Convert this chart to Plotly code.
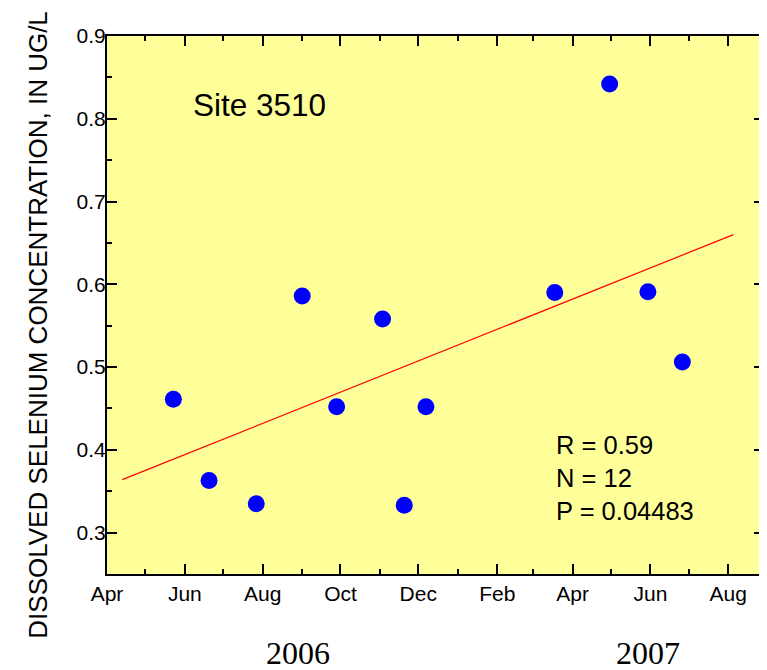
import plotly.graph_objects as go

# sample dates and dissolved selenium (ug/L), site 3510
dates = ["2006-05-23", "2006-06-20", "2006-07-27", "2006-09-01", "2006-09-28",
         "2006-11-03", "2006-11-20", "2006-12-07", "2007-03-18", "2007-04-30",
         "2007-05-30", "2007-06-26"]
selenium = [0.461, 0.363, 0.335, 0.586, 0.452, 0.558, 0.333, 0.452,
            0.590, 0.842, 0.591, 0.506]

# fitted trend line end points
trend_x = ["2006-04-13", "2007-08-05"]
trend_y = [0.364, 0.660]

stats_lines = ["R = 0.59", "N = 12", "P = 0.04483"]
site_label = "Site 3510"
year_labels = ["2006", "2007"]

fig = go.Figure()
fig.add_trace(go.Scatter(x=trend_x, y=trend_y, mode="lines",
                         line=dict(color="#FF0000", width=1.2),
                         showlegend=False, hoverinfo="skip"))
fig.add_trace(go.Scatter(x=dates, y=selenium, mode="markers",
                         marker=dict(color="#0000FF", size=17, line=dict(width=0)),
                         showlegend=False))

axis_font = dict(family="Arial, Liberation Sans, sans-serif", size=21, color="black")

fig.update_xaxes(type="date", range=["2006-04-01", "2007-08-29"],
                 tick0="2006-04-01", dtick="M2", tickformat="%b",
                 ticks="inside", ticklen=10, tickwidth=1.8, tickcolor="black",
                 minor=dict(ticks="inside", ticklen=5, dtick="M1",
                            tickwidth=1.8, tickcolor="black"),
                 showline=True, linecolor="black", linewidth=2, mirror="allticks",
                 showgrid=False, zeroline=False, tickfont=axis_font)
fig.update_yaxes(range=[0.25, 0.9], tick0=0.3, dtick=0.1, tickformat=".1f",
                 ticks="inside", ticklen=10, tickwidth=1.8, tickcolor="black",
                 minor=dict(ticks="inside", ticklen=5, dtick=0.05,
                            tickwidth=1.8, tickcolor="black"),
                 ticklabelstandoff=-5,
                 showline=True, linecolor="black", linewidth=2, mirror="allticks",
                 showgrid=False, zeroline=False, tickfont=axis_font)

fig.add_annotation(text="DISSOLVED SELENIUM CONCENTRATION, IN UG/L",
                   xref="paper", yref="paper", x=-0.1047, y=0.462,
                   xanchor="center", yanchor="middle", textangle=-90,
                   showarrow=False,
                   font=dict(family="Arial, Liberation Sans, sans-serif", size=26, color="black"))
fig.add_annotation(text=site_label, xref="paper", yref="paper", x=0.2314, y=0.871,
                   xanchor="center", yanchor="middle", showarrow=False,
                   font=dict(family="Arial, Liberation Sans, sans-serif", size=31.5, color="black"))
fig.add_annotation(text="<br>".join(stats_lines), xref="paper", yref="paper",
                   x=0.681, y=0.178, xanchor="left", yanchor="middle", align="left",
                   showarrow=False,
                   font=dict(family="Arial, Liberation Sans, sans-serif", size=25.5, color="black"))
for lab, xp in zip(year_labels, [0.29, 0.824]):
    fig.add_annotation(text=lab, xref="paper", yref="paper", x=xp, y=-0.147,
                       xanchor="center", yanchor="middle", showarrow=False,
                       font=dict(family="Times New Roman, Liberation Serif, serif", size=32, color="black"))

# page body has an 8px margin, so the figure is sized to sit inside the window
fig.update_layout(width=759, height=662,
                  margin=dict(l=99, r=1, t=28, b=96),
                  paper_bgcolor="white", plot_bgcolor="#FFFF99",
                  showlegend=False)

fig.write_html("out.html")
